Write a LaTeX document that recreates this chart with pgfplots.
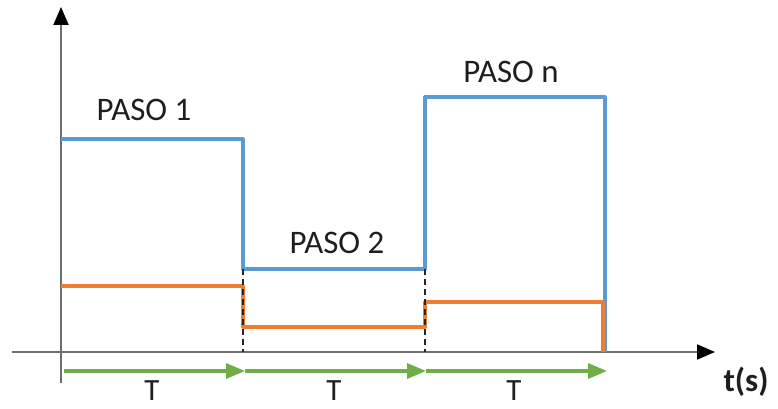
\documentclass[border=0pt]{standalone}
\usepackage{pgfplots}
\pgfplotsset{compat=1.18}
\usepackage{fontspec}
\setmainfont{Carlito}
\usetikzlibrary{arrows.meta}
\definecolor{cblue}{HTML}{5B9BD5}
\definecolor{corange}{HTML}{ED7D31}
\definecolor{cgreen}{HTML}{70AD47}
\definecolor{caxis}{HTML}{6E6E6E}
\definecolor{ctext}{HTML}{1E1E1E}
\begin{document}
\begin{tikzpicture}
\begin{axis}[
  name=main,
  hide axis, scale only axis, clip=false,
  width=778bp, height=409bp,
  xmin=0, xmax=778, ymin=0, ymax=409,
]
% axes
\addplot[caxis, line width=2bp, -{Triangle[black,length=18bp,width=15bp]}] coordinates {(12,57) (715,57)};
\addplot[caxis, line width=2bp, -{Triangle[black,length=18bp,width=15bp]}] coordinates {(61,26) (61,402)};
% blue step
\addplot[cblue, line width=3.2bp, line join=round] coordinates {(61,270) (243,270) (243,140) (425,140) (425,312) (605,312) (605,57)};
% orange step
\addplot[corange, line width=3.2bp, line join=round] coordinates {(61,123) (243,123) (243,82) (425,82) (425,107) (603,107) (603,57)};
% dashed separators
\addplot[black!85, line width=2.4bp, dash pattern=on 6bp off 4bp] coordinates {(243,140) (243,57)};
\addplot[black!85, line width=2.4bp, dash pattern=on 6bp off 4bp] coordinates {(425,140) (425,57)};
% green arrows
\addplot[cgreen, line width=3.2bp, -{Triangle[length=19bp,width=15bp]}] coordinates {(64,38) (245,38)};
\addplot[cgreen, line width=3.2bp, -{Triangle[length=19bp,width=15bp]}] coordinates {(245,38) (426,38)};
\addplot[cgreen, line width=3.2bp, -{Triangle[length=19bp,width=15bp]}] coordinates {(426,38) (607,38)};
% labels
\node[ctext, inner sep=0pt, font=\fontsize{31}{33}\selectfont] at (axis cs:152,18) {T};
\node[ctext, inner sep=0pt, font=\fontsize{31}{33}\selectfont] at (axis cs:334,18) {T};
\node[ctext, inner sep=0pt, font=\fontsize{31}{33}\selectfont] at (axis cs:514,18) {T};
\node[ctext, font=\fontsize{33}{36}\selectfont\bfseries] at (axis cs:746,27) {t(s)};
\node[ctext, font=\fontsize{33}{36}\selectfont] at (axis cs:144,299) {PASO 1};
\node[ctext, font=\fontsize{33}{36}\selectfont] at (axis cs:337,166) {PASO 2};
\node[ctext, font=\fontsize{33}{36}\selectfont] at (axis cs:511,337) {PASO n};
\end{axis}
\pgfresetboundingbox
\useasboundingbox (main.south west) rectangle (main.north east);
\end{tikzpicture}
\end{document}
